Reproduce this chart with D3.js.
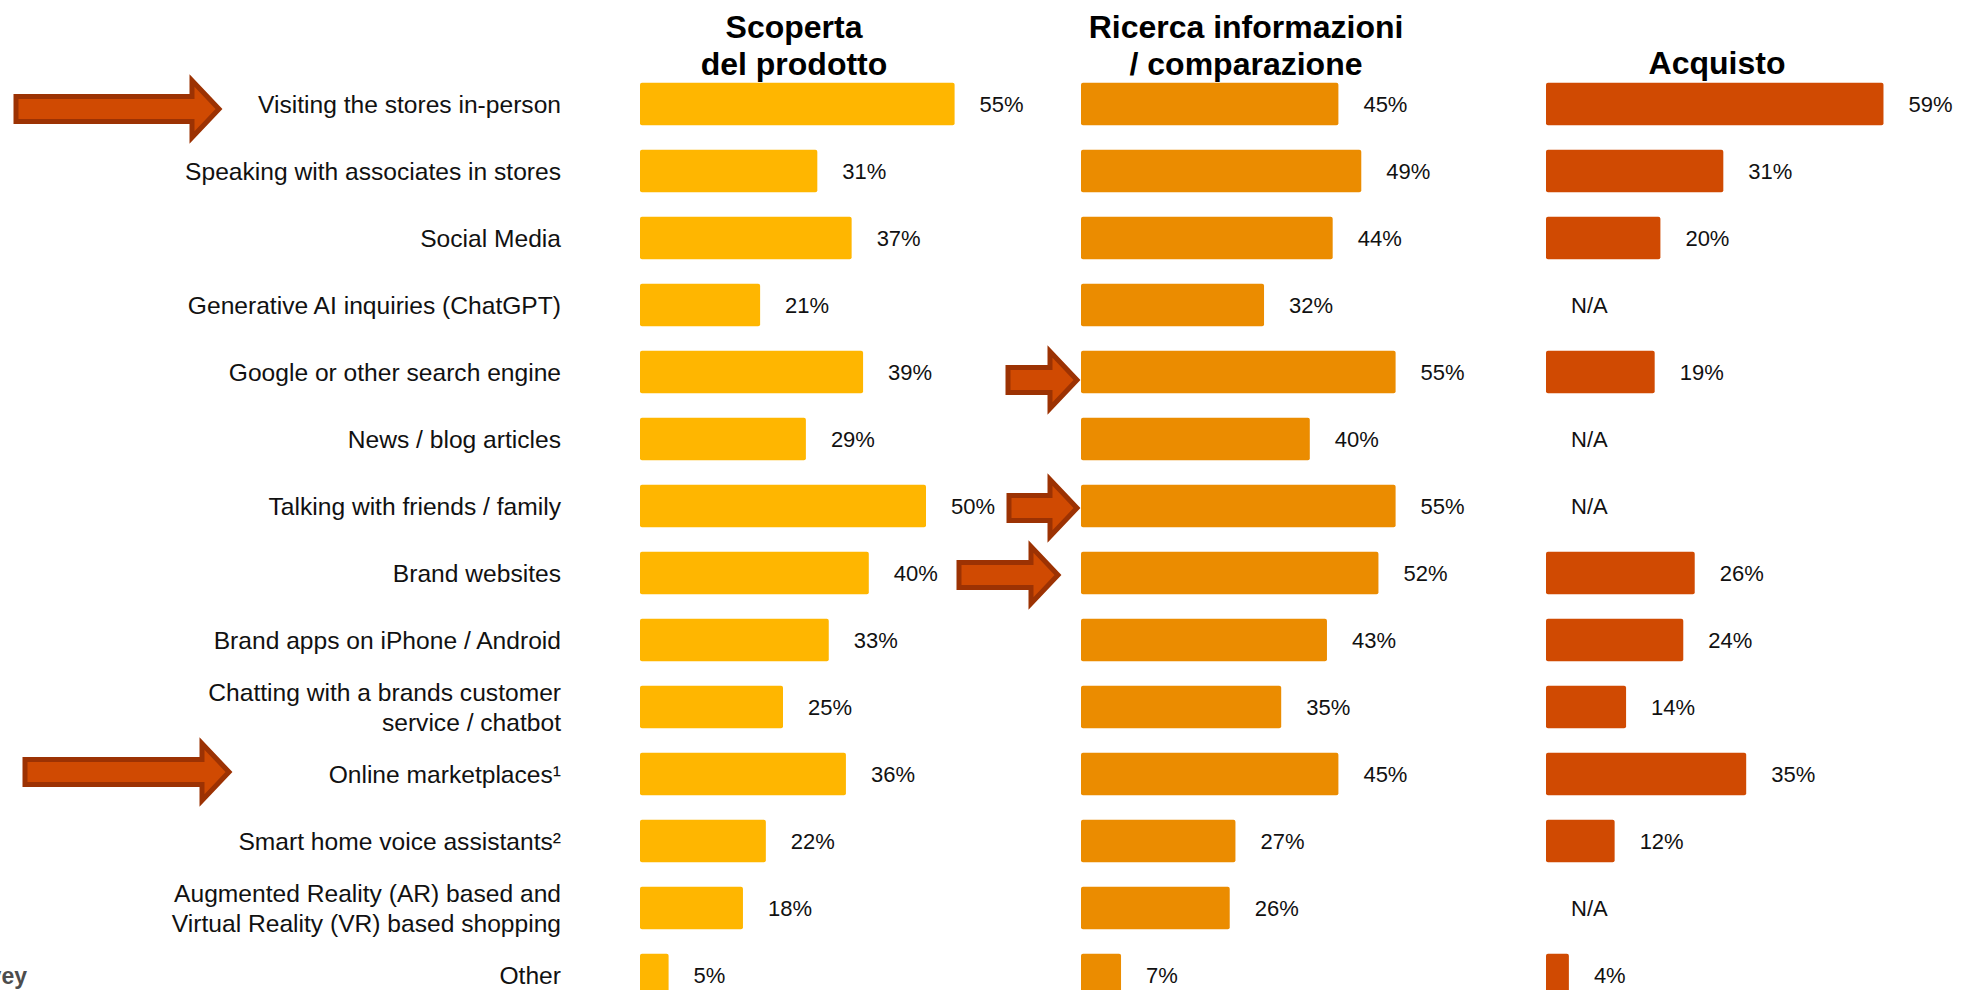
<!DOCTYPE html>
<html>
<head>
<meta charset="utf-8">
<script src="https://cdn.jsdelivr.net/npm/d3@7"></script>
<style>
  html, body { margin: 0; padding: 0; background: #fff; overflow: hidden; }
  svg { display: block; font-family: "Liberation Sans", Arial, sans-serif; }
</style>
</head>
<body>
<svg id="chart" width="1961" height="990"></svg>
<script>
// Channels asked about, one row each
const categories = [
  ["Visiting the stores in-person"],
  ["Speaking with associates in stores"],
  ["Social Media"],
  ["Generative AI inquiries (ChatGPT)"],
  ["Google or other search engine"],
  ["News / blog articles"],
  ["Talking with friends / family"],
  ["Brand websites"],
  ["Brand apps on iPhone / Android"],
  ["Chatting with a brands customer", "service / chatbot"],
  ["Online marketplaces\u00B9"],
  ["Smart home voice assistants\u00B2"],
  ["Augmented Reality (AR) based and", "Virtual Reality (VR) based shopping"],
  ["Other"]
];

// Share of respondents (%) per phase; null = not asked (N/A)
const discovery = [55, 31, 37, 21, 39, 29, 50, 40, 33, 25, 36, 22, 18, 5];
const research  = [45, 49, 44, 32, 55, 40, 55, 52, 43, 35, 45, 27, 26, 7];
const purchase  = [59, 31, 20, null, 19, null, null, 26, 24, 14, 35, 12, null, 4];

const phaseTitles = [
  ["Scoperta", "del prodotto"],
  ["Ricerca informazioni", "/ comparazione"],
  ["Acquisto"]
];

// Layout
const W = 1961, H = 990;
const panels = [
  { values: discovery, x0: 640,  titleX: 794,  color: "#FFB600" },
  { values: research,  x0: 1081, titleX: 1246, color: "#EB8C00" },
  { values: purchase,  x0: 1546, titleX: 1717, color: "#D04A02" }
];

const svg = d3.select("#chart");

const y = d3.scaleBand()
  .domain(d3.range(categories.length))
  .range([70.5, 70.5 + 67 * categories.length])
  .paddingInner(0.366)
  .paddingOuter(0.183);

const x = d3.scaleLinear().domain([0, 100]).range([0, 572]);

const labelRight = 561;
const rowMid = i => y(i) + y.bandwidth() / 2;

// Row labels
const lab = svg.append("g").attr("class", "row-labels")
  .attr("font-size", 24.6).attr("fill", "#111").attr("text-anchor", "end");
categories.forEach((lines, i) => {
  const t = lab.append("text")
    .attr("x", labelRight)
    .attr("y", rowMid(i))
    .attr("dominant-baseline", "central");
  const lh = 30;
  lines.forEach((ln, k) => {
    t.append("tspan")
      .attr("x", labelRight)
      .attr("y", rowMid(i) + (k - (lines.length - 1) / 2) * lh)
      .text(ln);
  });
});

// Panels: title, bars, value labels
panels.forEach((p, pi) => {
  const g = svg.append("g").attr("transform", `translate(${p.x0},0)`);

  const title = phaseTitles[pi];
  const tt = svg.append("text")
    .attr("text-anchor", "middle")
    .attr("font-size", 32).attr("font-weight", "bold").attr("fill", "#000");
  const baseY = title.length === 2 ? 38 : 74;
  title.forEach((ln, k) => {
    tt.append("tspan").attr("x", p.titleX).attr("y", baseY + k * 37).text(ln);
  });

  g.selectAll("rect.bar")
    .data(p.values.map((v, i) => ({ v, i })).filter(d => d.v != null))
    .join("rect")
    .attr("class", "bar")
    .attr("x", 0)
    .attr("y", d => y(d.i))
    .attr("width", d => x(d.v))
    .attr("height", y.bandwidth())
    .attr("rx", 2)
    .attr("fill", p.color);

  g.selectAll("text.val")
    .data(p.values.map((v, i) => ({ v, i })))
    .join("text")
    .attr("class", "val")
    .attr("x", d => x(d.v == null ? 0 : d.v) + 25)
    .attr("y", d => rowMid(d.i))
    .attr("dominant-baseline", "central")
    .attr("font-size", 22)
    .attr("fill", "#111")
    .text(d => d.v == null ? "N/A" : d3.format("d")(d.v) + "%");
});

// Highlight arrows pointing at key rows
const callouts = [
  { row: 0,  tail: 16,   tip: 219,  dy: 5 },
  { row: 10, tail: 25,   tip: 229,  dy: -2 },
  { row: 4,  tail: 1008, tip: 1077, dy: 8 },
  { row: 6,  tail: 1009, tip: 1077, dy: 2 },
  { row: 7,  tail: 959,  tip: 1058, dy: 2 }
];
const headLen = 27, shaftHalf = 12.5, headHalf = 28.5;
svg.append("g").attr("class", "callouts")
  .selectAll("path")
  .data(callouts)
  .join("path")
  .attr("d", c => {
    const cy = rowMid(c.row) + c.dy;
    const hb = c.tip - headLen;
    const pts = [
      [c.tail, cy - shaftHalf], [hb, cy - shaftHalf], [hb, cy - headHalf],
      [c.tip, cy], [hb, cy + headHalf], [hb, cy + shaftHalf], [c.tail, cy + shaftHalf]
    ];
    return d3.line()(pts) + "Z";
  })
  .attr("fill", "#D04A02")
  .attr("stroke", "#9C3203")
  .attr("stroke-width", 5)
  .attr("stroke-linejoin", "miter");

// Source note (runs off the left edge)
svg.append("text")
  .attr("x", 27).attr("y", 984)
  .attr("text-anchor", "end")
  .attr("font-size", 23).attr("font-weight", "bold").attr("fill", "#4d4d4d")
  .text("Source: Consumer Insights Survey");
</script>
</body>
</html>
